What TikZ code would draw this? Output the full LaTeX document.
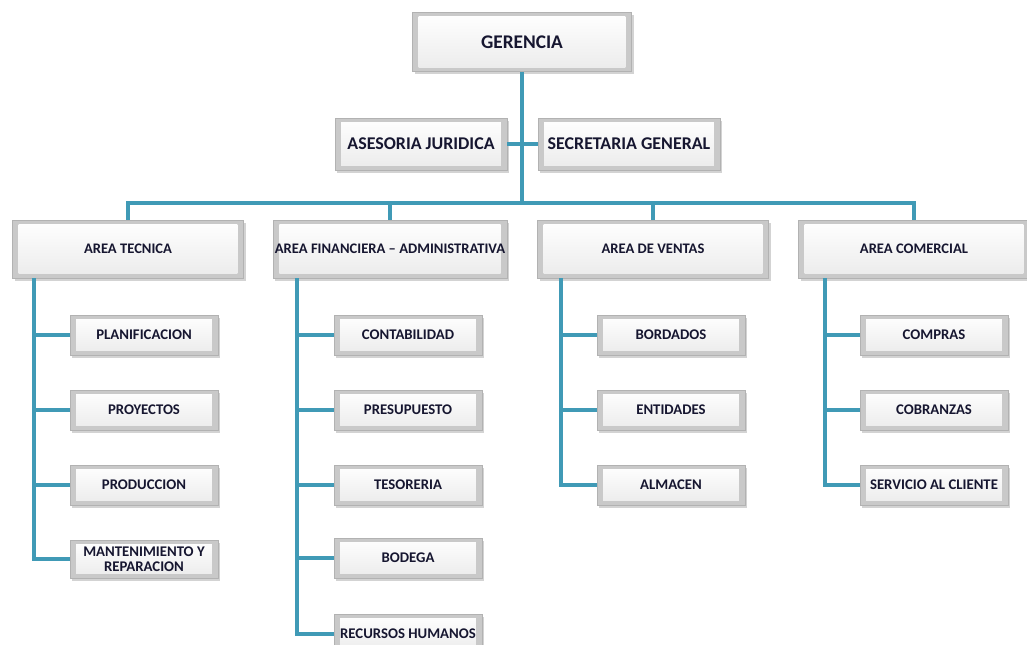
\documentclass[tikz,border=0pt]{standalone}
\usepackage{fontspec}
\setmainfont{Carlito}
\usetikzlibrary{shadows}
\definecolor{linea}{RGB}{64,154,182}
\definecolor{letra}{RGB}{22,22,48}
\tikzset{
  box/.style={rectangle,draw=gray!60,fill=gray!42,text=letra,align=center,
    inner sep=1pt,
    drop shadow={shadow xshift=1.2pt,shadow yshift=-1.6pt,opacity=0.35},
    path picture={\shade[top color=white,bottom color=gray!16]
      ([shift={(3.5pt,2.5pt)}]path picture bounding box.south west) rectangle
      ([shift={(-3.5pt,-2.5pt)}]path picture bounding box.north east);}},
  conn/.style={draw=linea,line width=2pt}
}
\begin{document}
\begin{tikzpicture}[x=0.02cm,y=-0.02cm]
        \useasboundingbox (0,0) rectangle (1027,645);
        \begin{scope}[every node/.style={box,minimum width=4.38cm,minimum height=1.18cm,font=\bfseries\fontsize{11}{13}\selectfont}]
            \node (ger) at (522,42) {GERENCIA};
        \end{scope}
        \begin{scope}[every node/.style={box,minimum height=1.04cm,font=\bfseries\fontsize{10.2}{12}\selectfont}]
            \node (ase) [minimum width=3.44cm] at (421,144) {ASESORIA JURIDICA};
            \node (sec) [minimum width=3.64cm] at (629,144) {SECRETARIA GENERAL};
        \end{scope}
        \begin{scope}[every node/.style={box,minimum width=4.62cm,minimum height=1.16cm,font=\bfseries\fontsize{8.3}{10}\selectfont}]
            \node (tec) at (128,249) {AREA TECNICA};
            \node (fin) at (390,249) {AREA FINANCIERA -- ADMINISTRATIVA};
            \node (ven) at (653,249) {AREA DE VENTAS};
            \node (com) at (914,249) {AREA COMERCIAL};
        \end{scope}
        \begin{scope}[every node/.style={box,minimum width=2.96cm,minimum height=0.8cm,font=\bfseries\fontsize{8.4}{9.6}\selectfont}]
            \node (pla) at (144,335) {PLANIFICACION};
            \node (pro) at (144,410) {PROYECTOS};
            \node (prd) at (144,485) {PRODUCCION};
            \node (man) [minimum height=0.76cm] at (144,559) {MANTENIMIENTO Y\\[-1pt]REPARACION};
            \node (cont) at (408,335) {CONTABILIDAD};
            \node (pre) at (408,410) {PRESUPUESTO};
            \node (tes) at (408,485) {TESORERIA};
            \node (bod) at (408,558) {BODEGA};
            \node (rrhh) at (408,634) {RECURSOS HUMANOS};
            \node (bor) at (671,335) {BORDADOS};
            \node (ent) at (671,410) {ENTIDADES};
            \node (alm) at (671,485) {ALMACEN};
            \node (compr) at (934,335) {COMPRAS};
            \node (cob) at (934,410) {COBRANZAS};
            \node (serv) at (934,485) {SERVICIO AL CLIENTE};
        \end{scope}
        % puntos de las lineas
        \coordinate (bus) at (522,203);
        \coordinate (t0) at (34,278);
        \coordinate (f0) at (297,278);
        \coordinate (v0) at (561,278);
        \coordinate (c0) at (825,278);
        \begin{scope}[every path/.style={conn}]
            \draw (ger.south) -- (bus);
            \draw (ase.east) -- (sec.west);
            \draw (bus) -| (tec.north);
            \draw (bus) -| (fin.north);
            \draw (bus) -| (ven.north);
            \draw (bus) -| (com.north);
        \end{scope}
        \begin{scope}[every path/.style={conn}]
            \draw (t0) |- (pla.west);
            \draw (t0) |- (pro.west);
            \draw (t0) |- (prd.west);
            \draw (t0) |- (man.west);
        \end{scope}
        \begin{scope}[every path/.style={conn}]
            \draw (f0) |- (cont.west);
            \draw (f0) |- (pre.west);
            \draw (f0) |- (tes.west);
            \draw (f0) |- (bod.west);
            \draw (f0) |- (rrhh.west);
        \end{scope}
        \begin{scope}[every path/.style={conn}]
            \draw (v0) |- (bor.west);
            \draw (v0) |- (ent.west);
            \draw (v0) |- (alm.west);
        \end{scope}
        \begin{scope}[every path/.style={conn}]
            \draw (c0) |- (compr.west);
            \draw (c0) |- (cob.west);
            \draw (c0) |- (serv.west);
        \end{scope}
    \end{tikzpicture}
\end{document}
